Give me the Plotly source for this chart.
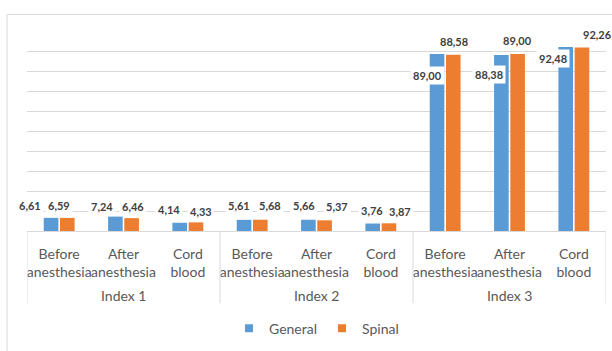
import plotly.graph_objects as go

groups = ["Index 1", "Index 2", "Index 3"]
categories = ["Before<br>anesthesia", "After<br>anesthesia", "Cord<br>blood"]
general = [6.61, 7.24, 4.14, 5.61, 5.66, 3.76, 89.00, 88.38, 92.48]
spinal = [6.59, 6.46, 4.33, 5.68, 5.37, 3.87, 88.58, 89.00, 92.26]
series_names = ["General", "Spinal"]

# label placement tweaks (pixels) relative to category centre / bar top
g_dx = [-29, -22, -19, -13, -13, -9, -18, -21, -21]
g_dy = [12, 10, 13, 14, 14, 13, -22, -19, -12]
s_dx = [0, 9, 13, 18, 20, 19, 9, 8, 24]
s_dy = [12, 12, 11, 14, 14, 12, 13, 13, 13]

BLUE = "#5B9BD5"
ORANGE = "#ED7D31"
GRID = "#D9D9D9"
TXT = "#595959"
FONT = "Lato, Carlito, Open Sans, sans-serif"

ncat = len(categories)
xpos = list(range(len(groups) * ncat))
ticktext = [c for _ in groups for c in categories]

fig = go.Figure()
fig.add_trace(go.Bar(x=xpos, y=general, name=series_names[0],
                     marker=dict(color=BLUE, line=dict(width=0)), showlegend=False))
fig.add_trace(go.Bar(x=xpos, y=spinal, name=series_names[1],
                     marker=dict(color=ORANGE, line=dict(width=0)), showlegend=False))
for nm, col in zip(series_names, [BLUE, ORANGE]):
    fig.add_trace(go.Scatter(x=[None], y=[None], mode="markers", name=nm,
                             marker=dict(symbol="square", size=8, color=col)))

def fmt(v):
    return f"{v:.2f}".replace(".", ",")

annotations = []
for i in xpos:
    for vals, dxs, dys in ((general, g_dx, g_dy), (spinal, s_dx, s_dy)):
        annotations.append(dict(
            x=i, y=vals[i], xref="x", yref="y", text=fmt(vals[i]),
            showarrow=False, xshift=dxs[i], yshift=dys[i],
            xanchor="center", yanchor="middle",
            bgcolor="white", borderpad=2,
            font=dict(family=FONT, size=11, color="#404040", weight=700),
        ))

# group (outer level) labels and dividers of the category axis
shapes = [dict(type="rect", xref="paper", yref="paper",
               x0=-0.0345, x1=1.05, y0=-0.7, y1=1.088,
               line=dict(color=GRID, width=1), layer="below")]
for gi, g in enumerate(groups):
    annotations.append(dict(x=gi * ncat + (ncat - 1) / 2, y=-0.322, xref="x", yref="paper",
                            text=g, showarrow=False, xanchor="center", yanchor="middle",
                            font=dict(family=FONT, size=14, color=TXT)))
for k in range(len(groups) + 1):
    shapes.append(dict(type="line", xref="x", yref="paper",
                       x0=k * ncat - 0.5, x1=k * ncat - 0.5, y0=0, y1=-0.363,
                       line=dict(color=GRID, width=1)))

fig.update_layout(
    width=612, height=351,
    margin=dict(l=27, r=6, t=32, b=115),
    paper_bgcolor="white", plot_bgcolor="white",
    barmode="group", bargap=0.495, bargroupgap=0.1,
    font=dict(family=FONT, size=14, color=TXT),
    annotations=annotations,
    shapes=shapes,
    legend=dict(orientation="h", x=0.5, xanchor="center", y=-0.41, yanchor="top",
                font=dict(family=FONT, size=14, color=TXT), itemwidth=30,
                bgcolor="rgba(0,0,0,0)"),
)
fig.update_yaxes(range=[0, 100], dtick=10, showgrid=True, gridcolor=GRID,
                 showticklabels=False, zeroline=False, showline=False, ticks="",
                 automargin=False)
fig.update_xaxes(range=[-0.5, len(xpos) - 0.5], tickvals=xpos, ticktext=ticktext,
                 showline=True, linecolor=GRID, linewidth=1, showgrid=False,
                 zeroline=False, ticks="", tickangle=0, automargin=False,
                 ticklabelstandoff=10,
                 tickfont=dict(family=FONT, size=14, color=TXT))

fig.write_html("out.html", config={"displayModeBar": False},
               post_script="document.body.style.margin='0';document.body.style.padding='0';")
